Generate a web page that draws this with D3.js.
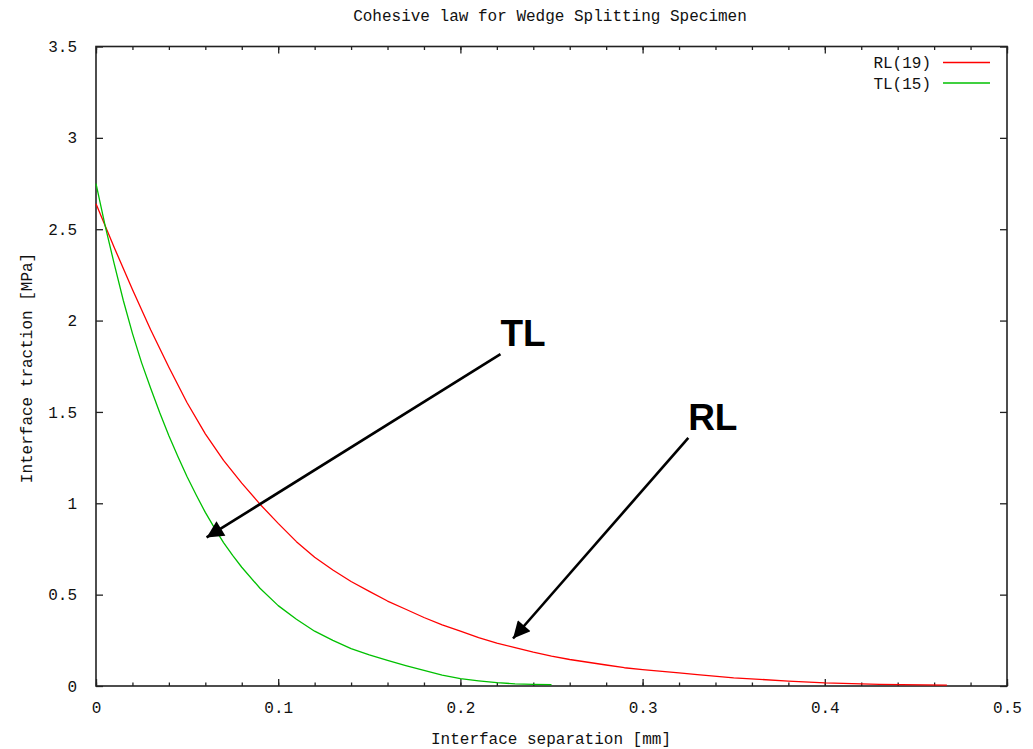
<!DOCTYPE html>
<html>
<head>
<meta charset="utf-8">
<script src="https://cdn.jsdelivr.net/npm/d3@7"></script>
<style>
  html, body { margin: 0; padding: 0; background: #fff; }
  svg { display: block; }
  .mono { font-family: "Liberation Mono", "DejaVu Sans Mono", monospace; font-size: 16px; fill: #111; }
</style>
</head>
<body>
<svg id="chart" width="1033" height="749"></svg>
<script>
// Interface separation [mm] vs. interface traction [MPa]
const rlSeparation = [0, 0.01, 0.02, 0.03, 0.04, 0.05, 0.06, 0.07, 0.08, 0.09, 0.10, 0.11, 0.12, 0.13, 0.14, 0.15, 0.16, 0.17, 0.18, 0.19, 0.20, 0.21, 0.22, 0.23, 0.24, 0.25, 0.26, 0.27, 0.28, 0.29, 0.30, 0.32, 0.33, 0.35, 0.38, 0.40, 0.43, 0.467];
const rlTraction   = [2.64, 2.40, 2.17, 1.95, 1.745, 1.55, 1.38, 1.235, 1.11, 0.995, 0.89, 0.79, 0.705, 0.635, 0.572, 0.518, 0.465, 0.42, 0.375, 0.335, 0.30, 0.265, 0.235, 0.21, 0.185, 0.163, 0.145, 0.13, 0.115, 0.10, 0.09, 0.072, 0.062, 0.045, 0.027, 0.017, 0.009, 0.005];

const tlSeparation = [0, 0.005, 0.01, 0.015, 0.02, 0.025, 0.03, 0.035, 0.04, 0.045, 0.05, 0.055, 0.06, 0.065, 0.07, 0.075, 0.08, 0.09, 0.10, 0.11, 0.12, 0.13, 0.14, 0.15, 0.16, 0.17, 0.18, 0.19, 0.20, 0.21, 0.22, 0.23, 0.24, 0.25];
const tlTraction   = [2.75, 2.52, 2.31, 2.11, 1.93, 1.77, 1.63, 1.495, 1.37, 1.255, 1.145, 1.045, 0.95, 0.865, 0.785, 0.715, 0.65, 0.535, 0.44, 0.365, 0.30, 0.25, 0.205, 0.17, 0.14, 0.112, 0.085, 0.06, 0.04, 0.028, 0.018, 0.012, 0.009, 0.007];

const seriesNames = ["RL(19)", "TL(15)"];
const seriesColors = ["#ff0000", "#00c000"];

const xTickValues = [0, 0.1, 0.2, 0.3, 0.4, 0.5];
const xTickLabels = ["0", "0.1", "0.2", "0.3", "0.4", "0.5"];
const xMinorTicks = d3.range(0, 0.5001, 0.02);
const yTickValues = [0, 0.5, 1, 1.5, 2, 2.5, 3, 3.5];
const yTickLabels = ["0", "0.5", "1", "1.5", "2", "2.5", "3", "3.5"];

// Callout labels and arrows, in data units
const calloutLabels = ["TL", "RL"];
const calloutText   = [[0.222, 1.86], [0.325, 1.40]];
const calloutTail   = [[0.222, 1.816], [0.3251, 1.358]];
const calloutTip    = [[0.0607, 0.813], [0.2289, 0.260]];

const margin = { left: 96, right: 26, top: 46.5, bottom: 63 };
const W = 1033, H = 749;
const svg = d3.select("#chart");

const x = d3.scaleLinear().domain([0, 0.5]).range([margin.left, W - margin.right]);
const y = d3.scaleLinear().domain([0, 3.5]).range([H - margin.bottom, margin.top]);

const x0 = x.range()[0], x1 = x.range()[1], y0 = y.range()[0], y1 = y.range()[1];

// Ticks (inward, mirrored on the opposite side)
const axisColor = "#222";
function styleAxis(g) {
  g.select(".domain").remove();
  g.selectAll(".tick line").attr("stroke", axisColor).attr("stroke-width", 1.3);
}
svg.append("g").attr("transform", `translate(0,${y0})`)
  .call(d3.axisBottom(x).tickValues(xMinorTicks).tickSize(-3.5).tickFormat(""))
  .call(styleAxis);
svg.append("g").attr("transform", `translate(0,${y1})`)
  .call(d3.axisTop(x).tickValues(xMinorTicks).tickSize(-3.5).tickFormat(""))
  .call(styleAxis);
svg.append("g").attr("transform", `translate(0,${y0})`)
  .call(d3.axisBottom(x).tickValues(xTickValues).tickSize(-7).tickFormat((d, i) => xTickLabels[i]).tickPadding(16))
  .call(styleAxis)
  .call(g => g.selectAll("text").attr("class", "mono").attr("font-family", null).attr("font-size", null));
svg.append("g").attr("transform", `translate(0,${y1})`)
  .call(d3.axisTop(x).tickValues(xTickValues).tickSize(-7).tickFormat(""))
  .call(styleAxis);
svg.append("g").attr("transform", `translate(${x0},0)`)
  .call(d3.axisLeft(y).tickValues(yTickValues).tickSize(-7).tickFormat((d, i) => yTickLabels[i]).tickPadding(19))
  .call(styleAxis)
  .call(g => g.selectAll("text").attr("class", "mono").attr("font-family", null).attr("font-size", null));
svg.append("g").attr("transform", `translate(${x1},0)`)
  .call(d3.axisRight(y).tickValues(yTickValues).tickSize(-7).tickFormat(""))
  .call(styleAxis);

// Plot border
svg.append("rect")
  .attr("x", x0).attr("y", y1).attr("width", x1 - x0).attr("height", y0 - y1)
  .attr("fill", "none").attr("stroke", axisColor).attr("stroke-width", 1.6);

// Curves
const line = d3.line().x(d => x(d[0])).y(d => y(d[1]));
const series = [
  d3.zip(rlSeparation, rlTraction),
  d3.zip(tlSeparation, tlTraction)
];
svg.append("g").selectAll("path").data(series).join("path")
  .attr("d", line)
  .attr("fill", "none")
  .attr("stroke", (d, i) => seriesColors[i])
  .attr("stroke-width", 1.3)
  .attr("stroke-linejoin", "round");

// Legend
const legend = svg.append("g");
seriesNames.forEach((name, i) => {
  const ly = 62.5 + i * 20.5;
  legend.append("text").attr("class", "mono")
    .attr("x", 931).attr("y", ly).attr("dy", "0.35em")
    .attr("text-anchor", "end").text(name);
  legend.append("line")
    .attr("x1", 943).attr("x2", 990).attr("y1", ly).attr("y2", ly)
    .attr("stroke", seriesColors[i]).attr("stroke-width", 1.3);
});

// Title and axis labels
svg.append("text").attr("class", "mono")
  .attr("x", 550).attr("y", 21).attr("text-anchor", "middle")
  .text("Cohesive law for Wedge Splitting Specimen");
svg.append("text").attr("class", "mono")
  .attr("x", 551).attr("y", 744).attr("text-anchor", "middle")
  .text("Interface separation [mm]");
svg.append("text").attr("class", "mono")
  .attr("transform", "translate(32,368) rotate(-90)")
  .attr("text-anchor", "middle")
  .text("Interface traction [MPa]");

// Callout arrows
svg.append("defs").append("marker")
  .attr("id", "head").attr("viewBox", "0 0 10 10")
  .attr("refX", 10).attr("refY", 5)
  .attr("markerWidth", 7.5).attr("markerHeight", 6.5)
  .attr("markerUnits", "strokeWidth")
  .attr("orient", "auto")
  .append("path").attr("d", "M0,0 L10,5 L0,10 z").attr("fill", "#000");

calloutLabels.forEach((lab, i) => {
  svg.append("line")
    .attr("x1", x(calloutTail[i][0])).attr("y1", y(calloutTail[i][1]))
    .attr("x2", x(calloutTip[i][0])).attr("y2", y(calloutTip[i][1]))
    .attr("stroke", "#000").attr("stroke-width", 2.6)
    .attr("marker-end", "url(#head)");
  svg.append("text")
    .attr("x", x(calloutText[i][0])).attr("y", y(calloutText[i][1]))
    .attr("font-family", "Liberation Sans, Arial, sans-serif")
    .attr("font-weight", "bold").attr("font-size", 37)
    .attr("fill", "#000")
    .text(lab);
});
</script>
</body>
</html>
